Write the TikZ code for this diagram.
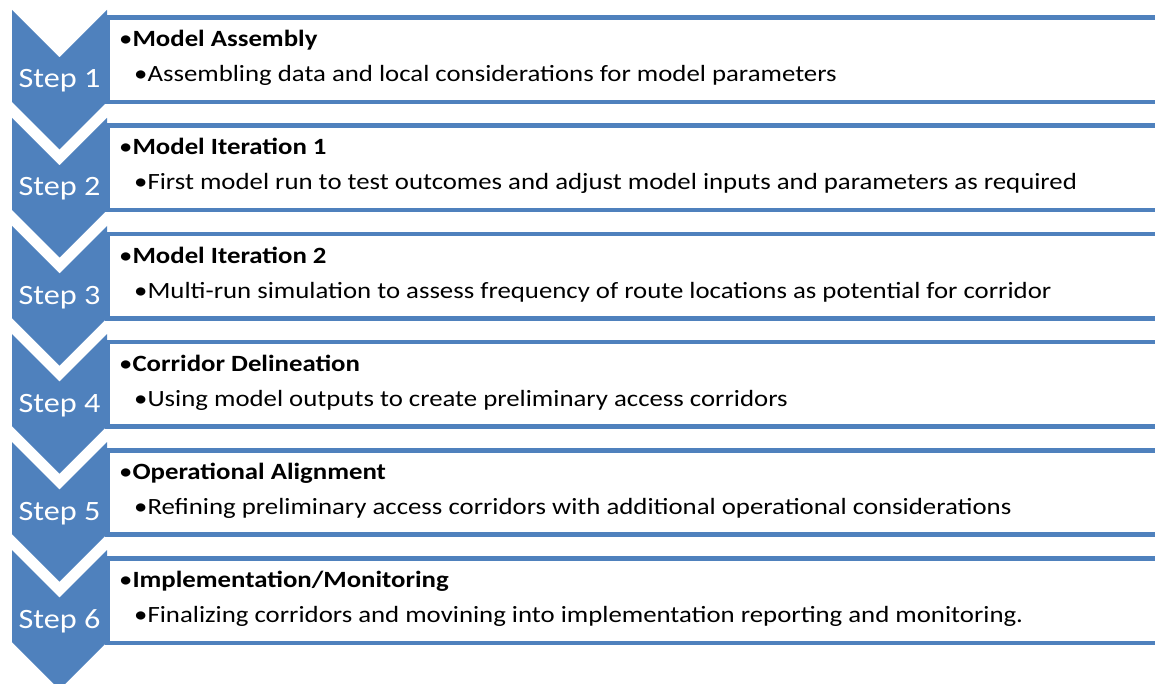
\documentclass[tikz,border=0pt]{standalone}
\usepackage{fontspec}
\setmainfont[FakeStretch=1.15]{Carlito}
\definecolor{chevblue}{HTML}{4F81BD}
\begin{document}
\begin{tikzpicture}[x=1pt,y=-1pt,
  chevron/.style={fill=chevblue,draw=none},
  listbox/.style={draw=chevblue,line width=4.5pt,fill=white,rectangle,inner sep=0pt,anchor=north west,minimum width=1052pt,minimum height=84.3pt},
  steplabel/.style={text=white,font=\fontsize{28}{34}\selectfont,anchor=base,inner sep=0pt},
  headline/.style={anchor=base west,inner sep=0pt,font=\fontsize{23.3}{28}\selectfont},
  subline/.style={anchor=base west,inner sep=0pt,font=\fontsize{23.3}{28}\selectfont}]
\useasboundingbox (0,0) rectangle (1155,684);
\foreach \i/\head/\sub in {
  0/Model Assembly/Assembling data and local considerations for model parameters,
  1/Model Iteration 1/First model run to test outcomes and adjust model inputs and parameters as required,
  2/Model Iteration 2/Multi-run simulation to assess frequency of route locations as potential for corridor,
  3/Corridor Delineation/Using model outputs to create preliminary access corridors,
  4/Operational Alignment/Refining preliminary access corridors with additional operational considerations,
  5/Implementation{/}Monitoring/Finalizing corridors and movining into implementation reporting and monitoring.}{
  \pgfmathsetmacro{\T}{10+108*\i}
  \pgfmathsetmacro{\B}{15.3+108.2*\i}
  \pgfmathtruncatemacro{\n}{\i+1}
  % chevron pointing down
  \path[chevron] (12,\T) -- (59.5,\T+47.5) -- (107,\T) -- (107,\T+92)
     -- (59.5,\T+139.5) -- (12,\T+92) -- cycle;
  \node[steplabel] (step\n) at (59.5,\T+78) {Step \n};
  % text box to the right
  \node[listbox] (box\n) at (105,\B) {};
  \node[headline] (head\n) at (119,\B+31.4) {•\textbf{\head}};
  \node[subline] (sub\n) at (134,\B+66.4) {•\sub};
}
\end{tikzpicture}
\end{document}
